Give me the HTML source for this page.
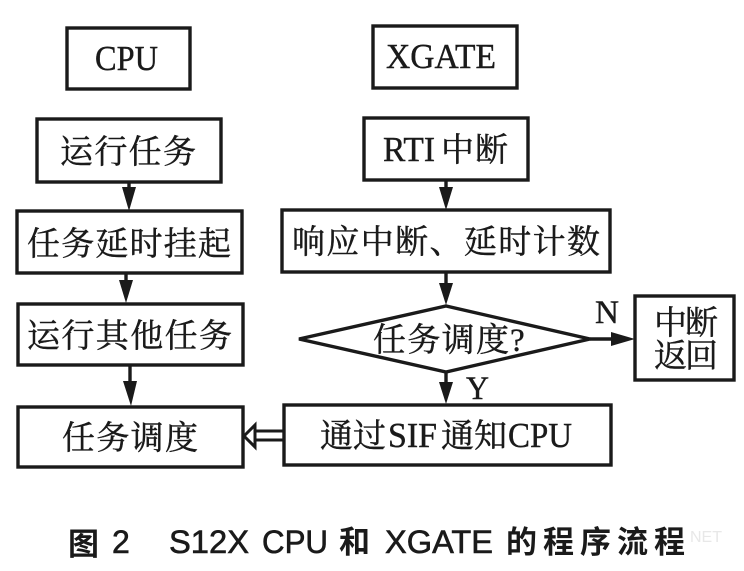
<!DOCTYPE html>
<html><head><meta charset="utf-8">
<style>
html,body{margin:0;padding:0;background:#fff;width:744px;height:571px;overflow:hidden}
svg{display:block}
.b{fill:none;stroke:#1a1a1a;stroke-width:3.4}
.l{stroke:#1a1a1a;stroke-width:3.4;fill:none}
.h{fill:#1a1a1a}
text{fill:#1a1a1a}
.t{font-family:"Liberation Serif","Noto Serif CJK SC",serif;font-size:33px;stroke:#1a1a1a;stroke-width:.45}
.e{font-family:"Liberation Serif",serif;font-size:35px;stroke:#1a1a1a;stroke-width:.4}
.m{font-family:"Liberation Serif",serif;font-size:33px;stroke:#1a1a1a;stroke-width:.4}
.c{font-family:"Noto Sans CJK SC","Liberation Sans",sans-serif;font-size:31px;font-weight:700}
.s{font-family:"Liberation Sans",sans-serif;font-size:32px;stroke:#1a1a1a;stroke-width:.6}
</style></head><body>
<svg width="744" height="571" viewBox="0 0 744 571" xmlns="http://www.w3.org/2000/svg">
<rect class="b" x="67" y="28" width="123" height="61"/>
<rect class="b" x="37" y="119" width="184" height="63"/>
<rect class="b" x="17" y="211" width="225" height="62"/>
<rect class="b" x="18" y="304" width="225" height="61"/>
<rect class="b" x="18" y="407" width="225" height="60"/>
<rect class="b" x="373" y="26" width="144" height="62"/>
<rect class="b" x="364" y="118" width="164" height="62"/>
<rect class="b" x="282" y="210" width="328" height="62"/>
<rect class="b" x="284" y="405" width="327" height="60"/>
<rect class="b" x="635" y="296" width="99" height="84"/>
<polygon class="b" points="299,339 446,306 590,339 446,372"/>

<line class="l" x1="129" y1="182" x2="129" y2="195"/><polygon class="h" points="122,187 136,187 129,211"/>
<line class="l" x1="126" y1="273" x2="126" y2="285"/><polygon class="h" points="119,280 133,280 126,303"/>
<line class="l" x1="130" y1="365" x2="130" y2="390"/><polygon class="h" points="123,381 137,381 131,406"/>
<line class="l" x1="446" y1="180" x2="446" y2="195"/><polygon class="h" points="439,187 453,187 446,210"/>
<line class="l" x1="446" y1="272" x2="446" y2="290"/><polygon class="h" points="439,283 453,283 446,305"/>
<line class="l" x1="446" y1="372" x2="446" y2="388"/><polygon class="h" points="439,382 453,382 446,404"/>
<line class="l" x1="590" y1="339" x2="618" y2="339"/><polygon class="h" points="611,332 611,346 635,339"/>

<line x1="254" y1="431" x2="283" y2="431" stroke="#1a1a1a" stroke-width="3"/>
<line x1="254" y1="440" x2="283" y2="440" stroke="#1a1a1a" stroke-width="3"/>
<polygon points="244,436 255,425 255,447" fill="#fff" stroke="#1a1a1a" stroke-width="3"/>

<text class="e" x="95" y="70" textLength="63" lengthAdjust="spacingAndGlyphs">CPU</text>
<text class="t" x="60" y="163" textLength="136">运行任务</text>
<text class="t" x="27" y="255" textLength="204">任务延时挂起</text>
<text class="t" x="27" y="347" textLength="205">运行其他任务</text>
<text class="t" x="62" y="449" textLength="136">任务调度</text>
<text class="e" x="386" y="68" textLength="110" lengthAdjust="spacingAndGlyphs">XGATE</text>
<text class="e" x="383" y="161" textLength="52" lengthAdjust="spacingAndGlyphs">RTI</text>
<text class="t" x="441" y="161" textLength="67">中断</text>
<text class="t" x="292" y="253" textLength="308">响应中断、延时计数</text>
<text class="t" x="373" y="351" textLength="136">任务调度</text>
<text class="m" x="510" y="351">?</text>
<text class="t" x="320" y="447" textLength="66">通过</text>
<text class="e" x="388" y="447" textLength="49" lengthAdjust="spacingAndGlyphs">SIF</text>
<text class="t" x="441" y="447" textLength="66">通知</text>
<text class="e" x="508" y="447" textLength="64" lengthAdjust="spacingAndGlyphs">CPU</text>
<text class="m" x="595" y="323" textLength="24" lengthAdjust="spacingAndGlyphs">N</text>
<text class="m" x="466" y="399" textLength="23" lengthAdjust="spacingAndGlyphs">Y</text>
<text class="t" x="654" y="334" textLength="64">中断</text>
<text class="t" x="654" y="367" textLength="64">返回</text>

<text class="c" x="68" y="555">图</text>
<text class="s" x="112" y="553">2</text>
<text class="s" x="169" y="553" textLength="80" lengthAdjust="spacingAndGlyphs">S12X</text>
<text class="s" x="262" y="553" textLength="66" lengthAdjust="spacingAndGlyphs">CPU</text>
<text class="c" x="339" y="553">和</text>
<text class="s" x="385" y="553" textLength="108" lengthAdjust="spacingAndGlyphs">XGATE</text>
<text class="c" x="506" y="553">的</text>
<text class="c" x="543" y="553">程</text>
<text class="c" x="580" y="553">序</text>
<text class="c" x="617" y="553">流</text>
<text class="c" x="654" y="553">程</text>
<text x="690" y="542" font-family="Liberation Sans,sans-serif" font-size="16" style="fill:#e8e8e8">NET</text>
</svg>
</body></html>
